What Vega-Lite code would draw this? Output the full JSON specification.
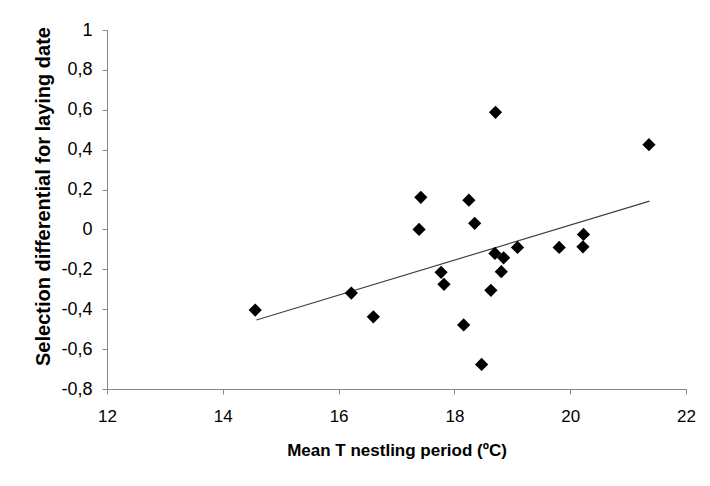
{
  "$schema": "https://vega.github.io/schema/vega-lite/v6.json",
  "width": 579,
  "height": 359,
  "autosize": {"type": "none"},
  "padding": {"left": 107, "top": 30, "right": 24, "bottom": 97},
  "background": "white",
  "config": {
    "locale": {"number": {"decimal": ",", "thousands": ".", "grouping": [3], "currency": ["", " €"], "minus": "-"}},
    "view": {"stroke": null},
    "font": "Liberation Sans"
  },
  "datasets": {
    "points": [
      {"temp": 14.56, "sel": -0.404},
      {"temp": 16.22, "sel": -0.319},
      {"temp": 16.60, "sel": -0.438},
      {"temp": 17.42, "sel": 0.161},
      {"temp": 17.39, "sel": 0.0},
      {"temp": 17.77, "sel": -0.215},
      {"temp": 17.82, "sel": -0.275},
      {"temp": 18.71, "sel": 0.587},
      {"temp": 21.36, "sel": 0.425},
      {"temp": 18.25, "sel": 0.147},
      {"temp": 18.35, "sel": 0.031},
      {"temp": 18.70, "sel": -0.120},
      {"temp": 18.85, "sel": -0.142},
      {"temp": 18.81, "sel": -0.212},
      {"temp": 19.09, "sel": -0.090},
      {"temp": 19.81, "sel": -0.090},
      {"temp": 20.23, "sel": -0.025},
      {"temp": 20.22, "sel": -0.087},
      {"temp": 18.63, "sel": -0.305},
      {"temp": 18.16, "sel": -0.479},
      {"temp": 18.47, "sel": -0.677}
    ],
    "trend": [
      {"temp": 14.58, "sel": -0.454},
      {"temp": 21.37, "sel": 0.142}
    ]
  },
  "encoding": {
    "x": {
      "field": "temp", "type": "quantitative",
      "scale": {"domain": [12, 22], "nice": false, "zero": false},
      "axis": {
        "title": "Mean T nestling period (ºC)",
        "values": [12, 14, 16, 18, 20, 22],
        "format": "d",
        "grid": false,
        "domainColor": "#868686",
        "tickColor": "#868686",
        "tickSize": 5,
        "labelFontSize": 17,
        "labelColor": "#000000",
        "labelBaseline": "middle",
        "labelPadding": 22,
        "labelFlush": false,
        "labelOverlap": false,
        "titleFontSize": 17,
        "titleFontWeight": "bold",
        "titleColor": "#000000",
        "titleBaseline": "middle",
        "titleY": 61,
        "titleX": 289.5
      }
    },
    "y": {
      "field": "sel", "type": "quantitative",
      "scale": {"domain": [-0.8, 1], "nice": false, "zero": false},
      "axis": {
        "title": "Selection differential for laying date",
        "values": [-0.8, -0.6, -0.4, -0.2, 0, 0.2, 0.4, 0.6, 0.8, 1],
        "format": ".1~f",
        "grid": false,
        "domainColor": "#868686",
        "tickColor": "#868686",
        "tickSize": 5,
        "labelFontSize": 18,
        "labelColor": "#000000",
        "labelPadding": 10,
        "labelFlush": false,
        "labelOverlap": false,
        "titleFontSize": 20,
        "titleFontWeight": "bold",
        "titleColor": "#000000",
        "titleAngle": -90,
        "titleAlign": "center",
        "titleBaseline": "middle",
        "titleX": -64,
        "titleY": 166
      }
    }
  },
  "layer": [
    {
      "data": {"name": "trend"},
      "mark": {"type": "line", "color": "#404040", "strokeWidth": 1.2}
    },
    {
      "data": {"name": "points"},
      "mark": {"type": "point", "shape": "diamond", "filled": true, "color": "black", "opacity": 1, "size": 175}
    }
  ]
}
